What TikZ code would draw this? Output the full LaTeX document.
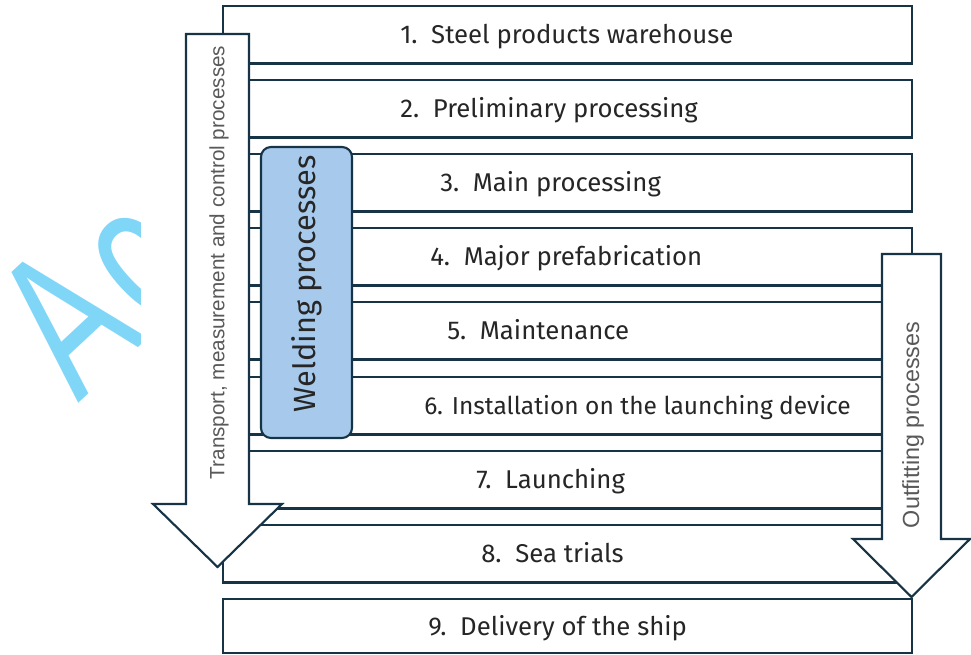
\documentclass[tikz,border=0pt]{standalone}
\usepackage{fontspec}
\setmainfont{Fira Sans}
\newfontfamily\arialfont{Liberation Sans}
\definecolor{navy}{HTML}{173447}
\definecolor{weldblue}{HTML}{A7CAEC}
\definecolor{wmblue}{HTML}{80D6F7}
\definecolor{maintext}{HTML}{262626}
\definecolor{graytext}{HTML}{595959}
\tikzset{
  procbox/.style={draw=navy, line width=1.6pt, fill=white, minimum width=516.75pt,
    minimum height=43.1pt, inner sep=0pt, outer sep=0pt},
  proctext/.style={text=maintext, font=\fontsize{19.3}{22}\selectfont, anchor=base west, inner sep=0pt},
  flowarrow/.style={draw=navy, line width=1.6pt, fill=white, line join=miter},
  arrowtext/.style={text=graytext, font=\arialfont\fontsize{15.5}{18}\selectfont, rotate=90, inner sep=0pt},
  weldbox/.style={draw=navy, line width=1.6pt, fill=weldblue, rounded corners=7.5pt,
    minimum width=68.25pt, minimum height=218.25pt, inner sep=0pt, outer sep=0pt},
  weldtext/.style={text=maintext, font=\fontsize{23}{26}\selectfont, rotate=90, inner sep=0pt},
  wmtext/.style={text=wmblue, font=\arialfont\fontsize{154}{156}\selectfont, rotate=43, xscale=0.7,
    anchor=base west, inner sep=0pt}
}
\begin{document}
\begin{tikzpicture}[x=0.75pt,y=-0.75pt]
\useasboundingbox (0,0) rectangle (971,655);
% watermark fragment
\begin{scope}
  \clip (0,0) rectangle (140,655);
  \node[wmtext] (wm) at (78,404) {A\kern10pt c};
\end{scope}
% process boxes
\node[procbox] (b1) at (567.5,34.75) {};
\node[procbox] (b2) at (567.5,108.75) {};
\node[procbox] (b3) at (567.5,182.75) {};
\node[procbox] (b4) at (567.5,256.75) {};
\node[procbox] (b5) at (567.5,330.75) {};
\node[procbox] (b6) at (567.5,405.75) {};
\node[procbox] (b7) at (567.5,479.75) {};
\node[procbox] (b8) at (567.5,553.75) {};
\node[procbox, minimum height=40.5pt] (b9) at (567.5,626) {};
% left arrow
\draw[flowarrow] (186,34) -- (249,34) -- (249,504) -- (282,504) -- (217.5,567)
  -- (153,504) -- (186,504) -- cycle;
% right arrow
\draw[flowarrow] (882,254) -- (941,254) -- (941,539) -- (970,539) -- (911.5,597)
  -- (853,539) -- (882,539) -- cycle;
% welding box
\node[weldbox] (weld) at (306.5,292.5) {};
% texts
\node[proctext] (t1) at (400,43.4) {1.\ \ Steel products warehouse};
\node[proctext] (t2) at (400,117.4) {2.\ \ Preliminary processing};
\node[proctext] (t3) at (440,191.4) {3.\ \ Main processing};
\node[proctext] (t4) at (430,265.4) {4.\ \ Major prefabrication};
\node[proctext] (t5) at (447,339.4) {5.\ \ Maintenance};
\node[proctext, font=\fontsize{18.4}{22}\selectfont] (t6) at (424,414.4) {6. Installation on the launching device};
\node[proctext] (t7) at (476,488.4) {7.\ \ Launching};
\node[proctext] (t8) at (481,562.4) {8.\ \ Sea trials};
\node[proctext] (t9) at (428,635) {9.\ \ Delivery of the ship};
\node[arrowtext] (lt) at (219,262.5) {Transport, measurement and control processes};
\node[arrowtext, font=\arialfont\fontsize{17.5}{20}\selectfont] (rt) at (913,425) {Outfitting processes};
\node[weldtext] (wt) at (307,284) {Welding processes};
\end{tikzpicture}
\end{document}
